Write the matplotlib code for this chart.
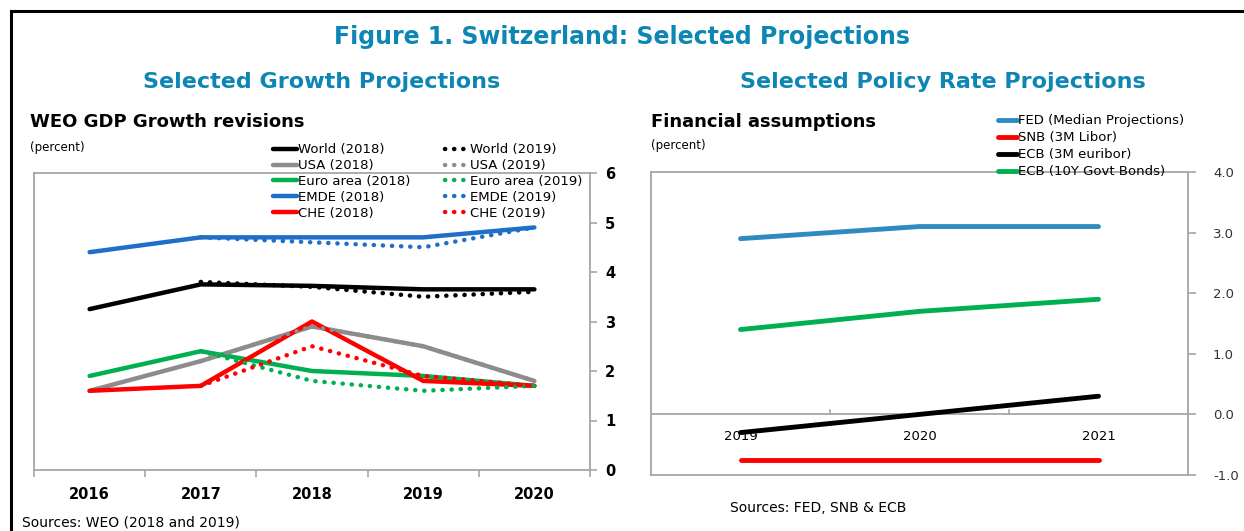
import matplotlib.pyplot as plt
from matplotlib.lines import Line2D

# ---- data: WEO GDP growth revisions (percent) ----
years = ["2016", "2017", "2018", "2019", "2020"]
world_2018 = [3.25, 3.75, 3.72, 3.65, 3.65]
world_2019 = [None, 3.8, 3.7, 3.5, 3.6]
usa_2018 = [1.6, 2.2, 2.9, 2.5, 1.8]
usa_2019 = [None, 2.2, 2.9, 2.5, 1.8]
euro_2018 = [1.9, 2.4, 2.0, 1.9, 1.7]
euro_2019 = [None, 2.4, 1.8, 1.6, 1.7]
emde_2018 = [4.4, 4.7, 4.7, 4.7, 4.9]
emde_2019 = [None, 4.7, 4.6, 4.5, 4.9]
che_2018 = [1.6, 1.7, 3.0, 1.8, 1.7]
che_2019 = [None, 1.7, 2.5, 1.9, 1.7]

# ---- data: financial assumptions (percent) ----
fin_years = ["2019", "2020", "2021"]
fed = [2.9, 3.1, 3.1]
snb = [-0.75, -0.75, -0.75]
ecb_3m = [-0.3, 0.0, 0.3]
ecb_10y = [1.4, 1.7, 1.9]

BLACK = "#000000"
GRAY = "#8c8c8c"
GREEN = "#00b050"
BLUE = "#1f6fc8"
FEDBLUE = "#2e8bc0"
RED = "#ff0000"
TEAL = "#0e86b4"
SPINE = "#a6a6a6"

plt.rcParams["font.family"] = ["DejaVu Sans"]

fig = plt.figure(figsize=(12.44, 5.31), dpi=100)

# frame around the figure (top and left)
fig.add_artist(Line2D([11 / 1244, 1.0], [1 - 11 / 531, 1 - 11 / 531], color="black", lw=2.2,
                      transform=fig.transFigure))
fig.add_artist(Line2D([11 / 1244, 11 / 1244], [0, 1 - 11 / 531], color="black", lw=2.2,
                      transform=fig.transFigure))

fig.text(0.5, 1 - 37 / 531, "Figure 1. Switzerland: Selected Projections", ha="center", va="center",
         fontsize=17, fontweight="bold", color=TEAL)
fig.text(322 / 1244, 1 - 82 / 531, "Selected Growth Projections", ha="center", va="center",
         fontsize=16, fontweight="bold", color=TEAL)
fig.text(943 / 1244, 1 - 82 / 531, "Selected Policy Rate Projections", ha="center", va="center",
         fontsize=16, fontweight="bold", color=TEAL)

# ================= left chart =================
ax1 = fig.add_axes([34 / 1244, 1 - 470 / 531, (590 - 34) / 1244, (470 - 173) / 531])
x = list(range(len(years)))
dot = (0, (0.05, 2.0))


def xy(vals):
    pts = [(i, v) for i, v in zip(x, vals) if v is not None]
    return [p[0] for p in pts], [p[1] for p in pts]


solid = [(usa_2018, GRAY, "USA (2018)"), (euro_2018, GREEN, "Euro area (2018)"),
         (world_2018, BLACK, "World (2018)"), (emde_2018, BLUE, "EMDE (2018)"),
         (che_2018, RED, "CHE (2018)")]
dotted = [(usa_2019, GRAY, "USA (2019)"), (euro_2019, GREEN, "Euro area (2019)"),
          (world_2019, BLACK, "World (2019)"), (emde_2019, BLUE, "EMDE (2019)"),
          (che_2019, RED, "CHE (2019)")]
for vals, c, lab in solid:
    ax1.plot(x, vals, color=c, lw=3.2, solid_capstyle="round", solid_joinstyle="round", zorder=3)
for vals, c, lab in dotted:
    xs, ys = xy(vals)
    ax1.plot(xs, ys, color=c, lw=3.2, linestyle=dot, dash_capstyle="round", zorder=4)

ax1.set_xlim(-0.5, 4.5)
ax1.set_ylim(0, 6)
ax1.set_xticks([i - 0.5 for i in range(6)])
ax1.set_xticklabels([])
ax1.set_xticks(x, minor=True)
ax1.set_xticklabels(years, minor=True, fontsize=10.5, fontweight="bold")
ax1.tick_params(axis="x", which="major", direction="out", length=5, color=SPINE, width=1.2)
ax1.tick_params(axis="x", which="minor", length=0, pad=12)
ax1.yaxis.tick_right()
ax1.set_yticks(range(7))
ax1.tick_params(axis="y", direction="out", length=5, color=SPINE, width=1.2, labelsize=10.5, pad=6)
for t in ax1.get_yticklabels():
    t.set_fontweight("bold")
for s in ax1.spines.values():
    s.set_color(SPINE)
    s.set_linewidth(1.3)

order = [("World (2018)", BLACK, "-"), ("World (2019)", BLACK, ":"),
         ("USA (2018)", GRAY, "-"), ("USA (2019)", GRAY, ":"),
         ("Euro area (2018)", GREEN, "-"), ("Euro area (2019)", GREEN, ":"),
         ("EMDE (2018)", BLUE, "-"), ("EMDE (2019)", BLUE, ":"),
         ("CHE (2018)", RED, "-"), ("CHE (2019)", RED, ":")]
handles, labels = [], []
for col in ("-", ":"):
    for lab, c, ls in order:
        if ls == col:
            if ls == "-":
                h = Line2D([], [], color=c, lw=3.2, solid_capstyle="round")
            else:
                h = Line2D([], [], color=c, lw=3.2, linestyle=(0, (0.05, 2.0)), dash_capstyle="round")
            handles.append(h)
            labels.append(lab)
leg1 = ax1.legend(handles, labels, ncol=2, loc="upper left", bbox_to_anchor=(268 / 1244, 1 - 138 / 531),
                  bbox_transform=fig.transFigure, frameon=False, fontsize=9.5, handlelength=1.8,
                  handletextpad=0.1, columnspacing=2.6, labelspacing=0.22, borderaxespad=0)

fig.text(30 / 1244, 1 - 122 / 531, "WEO GDP Growth revisions", fontsize=13, fontweight="bold", va="center")
fig.text(30 / 1244, 1 - 147 / 531, "(percent)", fontsize=8.5, va="center")
fig.text(22 / 1244, 1 - 523 / 531, "Sources: WEO (2018 and 2019)", fontsize=10, va="center")

# ================= right chart =================
ax2 = fig.add_axes([651 / 1244, 1 - 475 / 531, (1188 - 651) / 1244, (475 - 172) / 531])
fx = list(range(len(fin_years)))
ax2.plot(fx, fed, color=FEDBLUE, lw=3.5, solid_capstyle="round", label="FED (Median Projections)")
ax2.plot(fx, snb, color=RED, lw=3.5, solid_capstyle="round", label="SNB (3M Libor)")
ax2.plot(fx, ecb_3m, color=BLACK, lw=3.5, solid_capstyle="round", label="ECB (3M euribor)")
ax2.plot(fx, ecb_10y, color=GREEN, lw=3.5, solid_capstyle="round", label="ECB (10Y Govt Bonds)")
ax2.set_xlim(-0.5, 2.5)
ax2.set_ylim(-1, 4)
ax2.axhline(0, color=SPINE, lw=1.3, zorder=1)
ax2.set_xticks([])
for i in range(4):
    ax2.plot([i - 0.5, i - 0.5], [0, 0.08], color=SPINE, lw=1.2, zorder=1)
for i, lab in enumerate(fin_years):
    ax2.text(i, -0.26, lab, ha="center", va="top", fontsize=9.5, zorder=2)
ax2.yaxis.tick_right()
ax2.set_yticks(range(-1, 5))
ax2.set_yticklabels([f"{v:.1f}" for v in range(-1, 5)])
ax2.tick_params(axis="y", direction="out", length=6, color=SPINE, width=1.2, labelsize=9.5, pad=12,
                labelcolor="#333333")
for s in ax2.spines.values():
    s.set_color(SPINE)
    s.set_linewidth(1.3)
ax2.legend(loc="upper left", bbox_to_anchor=(993 / 1244, 1 - 109 / 531), bbox_transform=fig.transFigure,
           frameon=False, fontsize=9.5, handlelength=1.4, handletextpad=0.1, labelspacing=0.3,
           borderaxespad=0)

fig.text(651 / 1244, 1 - 122 / 531, "Financial assumptions", fontsize=13, fontweight="bold", va="center")
fig.text(651 / 1244, 1 - 145 / 531, "(percent)", fontsize=8.5, va="center")
fig.text(730 / 1244, 1 - 508 / 531, "Sources: FED, SNB & ECB", fontsize=10, va="center")

fig.savefig("out.png", dpi=100)
